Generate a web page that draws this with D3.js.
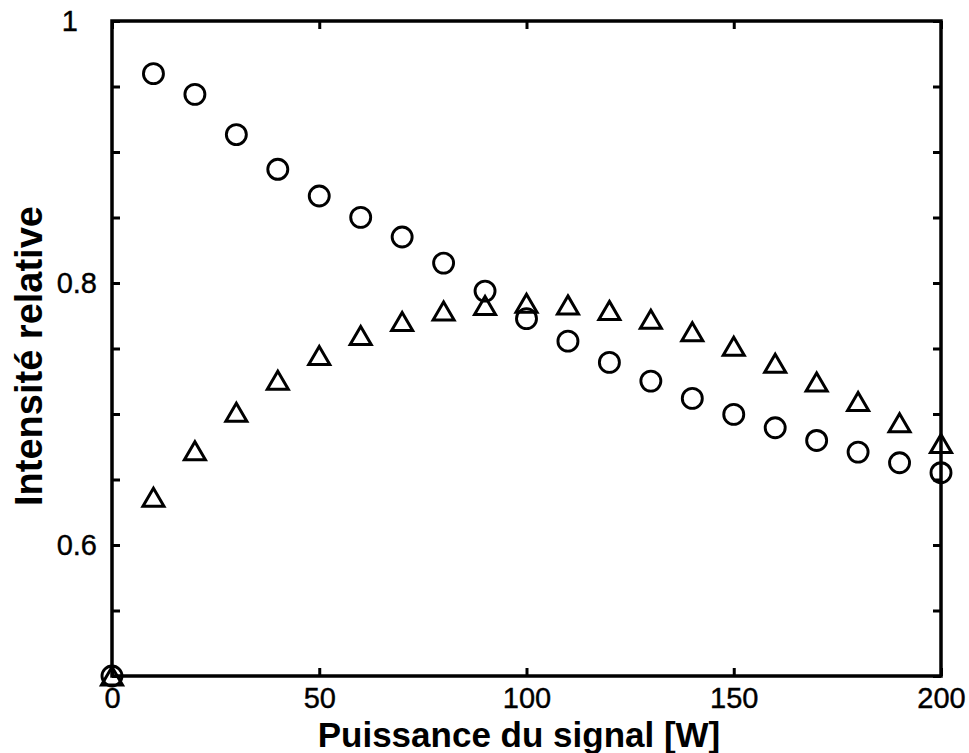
<!DOCTYPE html>
<html>
<head>
<meta charset="utf-8">
<script src="https://cdn.jsdelivr.net/npm/d3@7"></script>
<style>
  html, body { margin: 0; padding: 0; background: #fff; }
  svg { display: block; }
</style>
</head>
<body>
<svg id="chart" width="969" height="753"></svg>
<script>
const xValues = [0, 10, 20, 30, 40, 50, 60, 70, 80, 90, 100, 110, 120, 130, 140, 150, 160, 170, 180, 190, 200];
const circleValues = [0.5, 0.9598, 0.944, 0.9133, 0.8868, 0.8664, 0.8501, 0.8351, 0.8152, 0.7938, 0.7728, 0.7556, 0.7394, 0.7251, 0.7119, 0.6997, 0.6895, 0.6798, 0.6709, 0.6628, 0.6552];
const triangleValues = [0.5, 0.6365, 0.672, 0.7014, 0.7258, 0.7447, 0.7600, 0.7707, 0.7787, 0.7829, 0.7846, 0.7833, 0.7791, 0.7724, 0.7628, 0.7518, 0.7388, 0.7244, 0.7095, 0.6934, 0.6775];
const xTicks = [0, 50, 100, 150, 200];
const yTicks = [0.5, 0.55, 0.6, 0.65, 0.7, 0.75, 0.8, 0.85, 0.9, 0.95, 1.0];
const yTickLabels = { "0.6": "0.6", "0.8": "0.8", "1": "1" };
const xLabel = "Puissance du signal [W]";
const yLabel = "Intensité relative";

const svg = d3.select("#chart");
const L = 112, R = 941, T = 21, B = 676;
const x = d3.scaleLinear().domain([0, 200]).range([L, R]);
const y = d3.scaleLinear().domain([0.5, 1]).range([B, T]);
const font = "'Liberation Sans', Arial, Helvetica, sans-serif";
const tickLen = 8;

const axB = d3.axisBottom(x).tickValues(xTicks).tickSizeInner(-tickLen).tickSizeOuter(0).tickPadding(11).tickFormat(d3.format("d"));
const axT = d3.axisTop(x).tickValues(xTicks).tickSizeInner(-tickLen).tickSizeOuter(0).tickFormat("");
const axL = d3.axisLeft(y).tickValues(yTicks).tickSizeInner(-tickLen).tickSizeOuter(0).tickPadding(15)
  .tickFormat(d => yTickLabels[String(+d.toFixed(2))] || "");
const axR = d3.axisRight(y).tickValues(yTicks).tickSizeInner(-tickLen).tickSizeOuter(0).tickFormat("");

function style(g) {
  g.select(".domain").remove();
  g.selectAll(".tick line").attr("stroke", "#000").attr("stroke-width", 3);
  g.selectAll(".tick text").attr("fill", "#000").attr("stroke", "#000").attr("stroke-width", 0.4)
    .style("font-family", font).style("font-size", "29px");
}
svg.append("g").attr("transform", `translate(0,${B})`).call(axB).call(style);
svg.append("g").attr("transform", `translate(0,${T})`).call(axT).call(style);
const gl = svg.append("g").attr("transform", `translate(${L},0)`).call(axL).call(style);
gl.selectAll(".tick text").filter(d => Math.abs(d - 1) < 1e-9).attr("x", -34);
svg.append("g").attr("transform", `translate(${R},0)`).call(axR).call(style);

// frame
svg.append("rect").attr("x", L).attr("y", T).attr("width", R - L).attr("height", B - T)
  .attr("fill", "none").attr("stroke", "#000").attr("stroke-width", 3.5);

// markers
const pts = xValues.map((v, i) => ({ x: v, c: circleValues[i], t: triangleValues[i] }));
const mg = svg.append("g");
mg.selectAll("circle.m").data(pts).join("circle").attr("class", "m")
  .attr("cx", d => x(d.x)).attr("cy", d => y(d.c)).attr("r", 10)
  .attr("fill", "none").attr("stroke", "#000").attr("stroke-width", 2.9);
const tw = 10.5, th = 9;
mg.selectAll("path.t").data(pts).join("path").attr("class", "t")
  .attr("d", d => {
    const cx = x(d.x), cy = y(d.t);
    return `M${cx},${cy - th}L${cx + tw},${cy + th}L${cx - tw},${cy + th}Z`;
  })
  .attr("fill", "none").attr("stroke", "#000").attr("stroke-width", 3).attr("stroke-linejoin", "miter");

// axis titles
svg.append("text").attr("x", 519).attr("y", 747).attr("text-anchor", "middle")
  .style("font-family", font).style("font-size", "35px").style("font-weight", "bold").text(xLabel);
svg.append("text").attr("transform", `translate(42,356) rotate(-90)`).attr("text-anchor", "middle")
  .style("font-family", font).style("font-size", "38px").style("font-weight", "bold").text(yLabel);
</script>
</body>
</html>
